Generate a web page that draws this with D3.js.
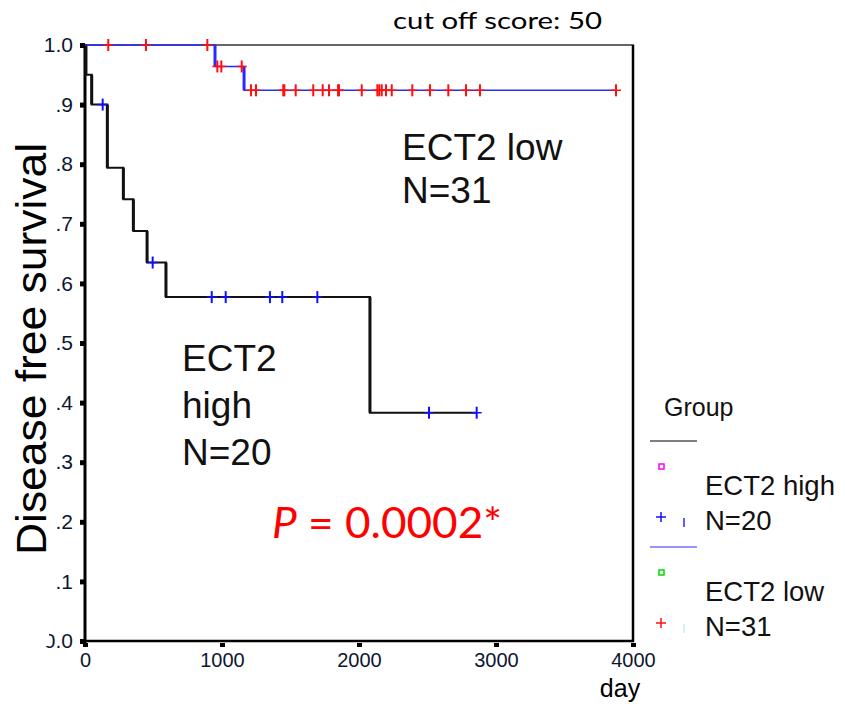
<!DOCTYPE html>
<html>
<head>
<meta charset="utf-8">
<script src="https://cdn.jsdelivr.net/npm/d3@7"></script>
<style>
  body { margin: 0; background: #fff; }
  svg { display: block; }
</style>
</head>
<body>
<div class="km-chart"></div>
<script>
// survival steps (day, survival after the drop)
const lowEventDays = [949, 1161];
const lowSurvival = [0.964, 0.924];
const lowCensorDays = [170, 445, 893, 966, 995, 1144, 1212, 1248, 1447, 1455, 1538, 1666, 1735, 1781, 1847, 1854, 2020, 2134, 2148, 2166, 2197, 2239, 2389, 2518, 2652, 2781, 2883, 3876];

const highEventDays = [7, 49, 163, 280, 353, 453, 591, 2080];
const highSurvival = [0.95, 0.90, 0.794, 0.741, 0.688, 0.635, 0.577, 0.383];
const highCensorDays = [129, 494, 925, 1027, 1350, 1440, 1696, 2511, 2859];

const yTicks = [0, 0.1, 0.2, 0.3, 0.4, 0.5, 0.6, 0.7, 0.8, 0.9, 1.0];
const yTickLabels = ["0.0", ".1", ".2", ".3", ".4", ".5", ".6", ".7", ".8", ".9", "1.0"];
const xTicks = [0, 1000, 2000, 3000, 4000];

const legendGroups = ["ECT2 high", "ECT2 low"];
const legendCounts = ["N=20", "N=31"];

const width = 845, height = 704;
const arial = "'Liberation Sans', Arial, sans-serif";
const calibri = "Lato, 'Open Sans', sans-serif";

const svg = d3.select(".km-chart").append("svg").attr("width", width).attr("height", height);

const x = d3.scaleLinear().domain([0, 4000]).range([85, 633]);
const y = d3.scaleLinear().domain([0, 1]).range([641, 45]);

// frame
svg.append("line").attr("x1", 85).attr("x2", 634).attr("y1", y(1)).attr("y2", y(1)).attr("stroke", "#333").attr("stroke-width", 1.5);
svg.append("line").attr("x1", 633).attr("x2", 633).attr("y1", y(1)).attr("y2", y(0) + 1).attr("stroke", "#000").attr("stroke-width", 2.5);

const yAxis = svg.append("g").attr("transform", `translate(${x(0)},0)`)
  .call(d3.axisLeft(y).tickValues(yTicks).tickSize(5).tickPadding(7).tickFormat((d, i) => yTickLabels[i]));
yAxis.attr("font-size", null).attr("font-family", null);
yAxis.select(".domain").attr("d", `M0,${y(1)}V${y(0) + 2}`).attr("stroke", "#000").attr("stroke-width", 3);
yAxis.selectAll(".tick line").attr("stroke", "#000").attr("stroke-width", 5);
yAxis.selectAll(".tick text").attr("font-family", arial).attr("font-size", 21).attr("fill", "#0d1630");

const xAxis = svg.append("g").attr("transform", `translate(0,${y(0)})`)
  .call(d3.axisBottom(x).tickValues(xTicks).tickSize(6).tickPadding(6).tickFormat(d3.format("d")));
xAxis.attr("font-size", null).attr("font-family", null);
xAxis.select(".domain").attr("d", `M${x(0)},0H${x(4000) + 1}`).attr("stroke", "#000").attr("stroke-width", 2.5);
xAxis.selectAll(".tick line").attr("y1", 2).attr("stroke", "#000").attr("stroke-width", 5);
xAxis.selectAll(".tick text").attr("font-family", arial).attr("font-size", 20).attr("fill", "#0d1630");

// the 0.0 label is cut on its left in the original
svg.append("rect").attr("x", 20).attr("y", 618).attr("width", 29).attr("height", 28).attr("fill", "#fff");

const stepLine = d3.line().x(d => x(d[0])).y(d => y(d[1])).curve(d3.curveStepAfter);

const buildSteps = (days, surv, end) => {
  const pts = [[0, 1]];
  days.forEach((d, i) => pts.push([d, surv[i]]));
  pts.push([end, surv[surv.length - 1]]);
  return pts;
};
const survAt = (days, surv, t) => {
  let s = 1;
  days.forEach((d, i) => { if (d <= t) s = surv[i]; });
  return s;
};

const drawCurve = (days, surv, censors, lineColor, markColor, lineWidth) => {
  const pts = buildSteps(days, surv, d3.max(censors));
  const g = svg.append("g");
  // vertical drops drawn heavier, as in the print
  g.selectAll("line.drop").data(days).enter().append("line")
    .attr("x1", d => x(d)).attr("x2", d => x(d))
    .attr("y1", (d, i) => y(i === 0 ? 1 : surv[i - 1])).attr("y2", (d, i) => y(surv[i]))
    .attr("stroke", lineColor).attr("stroke-width", 3);
  g.append("path").attr("d", stepLine(pts)).attr("fill", "none").attr("stroke", lineColor).attr("stroke-width", lineWidth);
  const marks = g.selectAll("g.censor").data(censors).enter().append("g")
    .attr("transform", d => `translate(${x(d)},${y(survAt(days, surv, d))})`);
  marks.append("line").attr("x1", 0).attr("x2", 0).attr("y1", -6).attr("y2", 6).attr("stroke", markColor).attr("stroke-width", 2);
  marks.append("line").attr("x1", -5).attr("x2", 5).attr("y1", 0).attr("y2", 0).attr("stroke", markColor).attr("stroke-width", 1.5);
};

drawCurve(highEventDays, highSurvival, highCensorDays, "#111", "#1010ff", 2);
drawCurve(lowEventDays, lowSurvival, lowCensorDays, "#2a2aff", "#ff1010", 1.5);

// titles and notes
svg.append("text").attr("transform", "translate(46,349) rotate(-90)").attr("text-anchor", "middle")
  .attr("font-family", arial).attr("font-size", 43).attr("fill", "#000").attr("textLength", 412).attr("lengthAdjust", "spacingAndGlyphs")
  .text("Disease  free survival");
svg.append("text").attr("x", 620).attr("y", 697).attr("text-anchor", "middle").attr("font-family", arial).attr("font-size", 25).text("day");
svg.append("text").attr("x", 393).attr("y", 29).attr("font-family", calibri).attr("font-size", 24)
  .attr("textLength", 209).attr("lengthAdjust", "spacingAndGlyphs").text("cut off score: 50");

const note = (lines, x0, y0, dy, size) => {
  const t = svg.append("text").attr("font-family", arial).attr("font-size", size).attr("fill", "#111");
  lines.forEach((l, i) => t.append("tspan").attr("x", x0).attr("y", y0 + i * dy).text(l));
};
note(["ECT2 low", legendCounts[1]], 402, 160, 43, 37);
note(["ECT2", "high", legendCounts[0]], 182, 371, 47, 37);

const pText = svg.append("text").attr("x", 272).attr("y", 538).attr("font-family", calibri).attr("font-size", 42).attr("fill", "#ff0000")
  .attr("textLength", 230).attr("lengthAdjust", "spacingAndGlyphs");
pText.append("tspan").attr("font-style", "italic").text("P");
pText.append("tspan").text(" = 0.0002*");

// legend
const lg = svg.append("g").attr("font-family", arial).attr("fill", "#111");
lg.append("text").attr("x", 664).attr("y", 416).attr("font-size", 25).text("Group");
const legendLine = ["#000", "#2a2aff"];
const legendBox = ["#ff00ff", "#00dd00"];
const legendPlus = ["#1010ff", "#ff1010"];
const legendBar = ["#2a2aff", "#b8f4f4"];
legendGroups.forEach((name, i) => {
  const oy = 441 + i * 106;
  lg.append("line").attr("x1", 650).attr("x2", 697).attr("y1", oy).attr("y2", oy).attr("stroke", legendLine[i]).attr("stroke-width", 1.2);
  lg.append("rect").attr("x", 659).attr("y", oy + 23).attr("width", 5).attr("height", 5).attr("fill", "none").attr("stroke", legendBox[i]).attr("stroke-width", 1.5);
  lg.append("line").attr("x1", 661).attr("x2", 661).attr("y1", oy + 71).attr("y2", oy + 81).attr("stroke", legendPlus[i]).attr("stroke-width", 1.5);
  lg.append("line").attr("x1", 656).attr("x2", 666).attr("y1", oy + 76).attr("y2", oy + 76).attr("stroke", legendPlus[i]).attr("stroke-width", 1.5);
  lg.append("line").attr("x1", 684).attr("x2", 684).attr("y1", oy + 77).attr("y2", oy + 86).attr("stroke", legendBar[i]).attr("stroke-width", 1.5);
  lg.append("text").attr("x", 705).attr("y", oy + 54).attr("font-size", 27.5).text(name);
  lg.append("text").attr("x", 705).attr("y", oy + 89).attr("font-size", 27.5).text(legendCounts[i]);
});
</script>
</body>
</html>
